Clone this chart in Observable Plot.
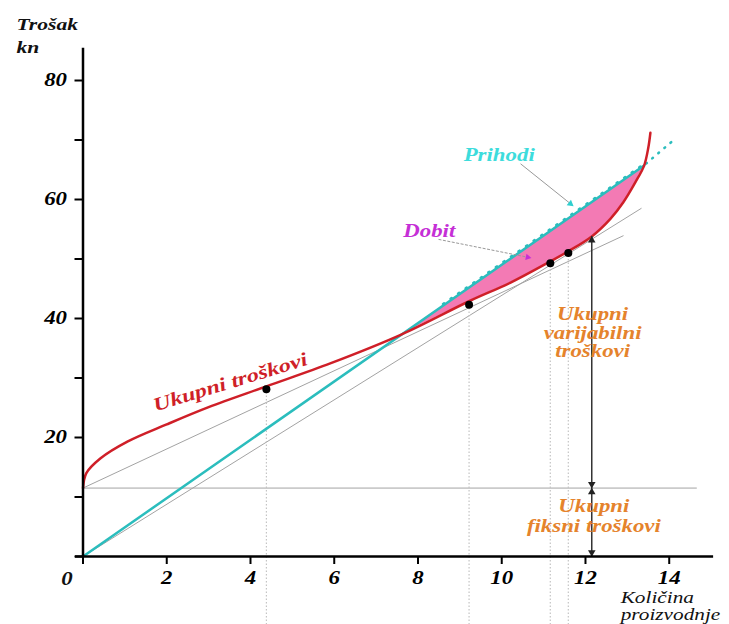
<!DOCTYPE html>
<html><head><meta charset="utf-8">
<script src="https://cdn.jsdelivr.net/npm/d3@7"></script>
<script src="https://cdn.jsdelivr.net/npm/@observablehq/plot@0.6"></script>
<style>body{margin:0;background:#fff}</style>
</head><body><div id="chart"></div>
<script>
// Total cost curve (Ukupni troškovi)
const costQ = [0, 0.08, 0.42, 1.06, 2.0, 3.0, 4.38, 5.92, 7.6, 9.22, 10.2, 11.16, 11.59, 12.15, 12.6, 12.9, 13.2, 13.4, 13.5, 13.55];
const costV = [11.5, 14.0, 16.5, 19.3, 22.2, 25.1, 28.6, 32.5, 37.3, 42.9, 46.0, 49.6, 51.3, 53.8, 56.8, 59.5, 63.0, 65.7, 68.7, 71.2];
// Revenue (Prihodi)
const revQ = [0, 13.4];
const revV = [0, 65.7];
const revExtQ = [13.4, 14.05];
const revExtV = [65.7, 69.6];
const revTeethQ = [8.6, 13.35];
const revTeethV = [42.1, 65.4];
// Profit region (Dobit)
const profitQ = [7.6, 9.22, 10.2, 11.16, 11.59, 12.15, 12.6, 12.9, 13.2, 13.4];
const profitCost = [37.3, 42.9, 46.0, 49.6, 51.3, 53.8, 56.8, 59.5, 63.0, 65.7];
const profitRev = [37.2, 45.2, 50.0, 54.7, 56.8, 59.5, 61.7, 63.2, 64.7, 65.7];
// Fixed cost level and helper lines
const fixedCost = 11.5;
const fixedLineQ = [0, 14.67];
const tangentAQ = [0, 12.9], tangentAV = [11.5, 53.9];
const tangentBQ = [0, 13.33], tangentBV = [0, 58.5];
// Marked points and drop lines
const pointQ = [4.38, 9.22, 11.16, 11.59];
const pointV = [28.1, 42.3, 49.3, 51.0];
const dropBottom = -11.5;
// Arrows
const arrowQ = 12.15;
const varTop = 53.8;
// Ticks
const xTicks = [0, 2, 4, 6, 8, 10, 12, 14];
const xTickLabels = ["", "2", "4", "6", "8", "10", "12", "14"];
const yTicks = [0, 10, 20, 30, 40, 50, 60, 70, 80];
const yTickLabels = ["", "", "20", "", "40", "", "60", "", "80"];
// Annotation leaders
const prihodiLead = {x1: 10.45, y1: 66.0, x2: 11.64, y2: 59.3};
const dobitLead = {x1: 8.49, y1: 53.3, x2: 10.62, y2: 50.3};

const cost = costQ.map((q, i) => ({q, v: costV[i]}));
const rev = revQ.map((q, i) => ({q, v: revV[i]}));
const revExt = revExtQ.map((q, i) => ({q, v: revExtV[i]}));
const teeth = revTeethQ.map((q, i) => ({q, v: revTeethV[i]}));
const profit = profitQ.map((q, i) => ({q, c: profitCost[i], r: profitRev[i]}));
const tanA = tangentAQ.map((q, i) => ({q, v: tangentAV[i]}));
const tanB = tangentBQ.map((q, i) => ({q, v: tangentBV[i]}));
const pts = pointQ.map((q, i) => ({q, v: pointV[i]}));

const F = "Liberation Serif";
const txt = {fontFamily: F, fontWeight: "bold", fontStyle: "italic", fontSize: 18};
const RED = "#cf1f28", CYAN = "#2bbdbd", PINK = "#f37ab4", GRAY = "#a3a3a3", ORANGE = "#e5832c";

const chart = Plot.plot({
  width: 729, height: 624,
  marginLeft: 82.5, marginRight: 18.4, marginTop: 50.25, marginBottom: 68,
  x: {domain: [0, 15]},
  y: {domain: [0, 85]},
  style: {fontFamily: F, color: "#000", background: "#fff"},
  marks: [
    Plot.areaY(profit, {x: "q", y1: "c", y2: "r", fill: PINK, curve: "catmull-rom"}),
    Plot.ruleY([fixedCost], {x1: fixedLineQ[0], x2: fixedLineQ[1], stroke: GRAY, strokeWidth: 1}),
    Plot.line(tanA, {x: "q", y: "v", stroke: GRAY, strokeWidth: 1}),
    Plot.line(tanB, {x: "q", y: "v", stroke: GRAY, strokeWidth: 1}),
    Plot.ruleX(pts, {x: "q", y1: dropBottom, y2: "v", stroke: "#c4c4c4", strokeWidth: 1.2, strokeDasharray: "1.5,2"}),
    Plot.line(teeth, {x: "q", y: "v", stroke: CYAN, strokeWidth: 2.6, strokeDasharray: "1.2,8", dy: -2}),
    Plot.line(revExt, {x: "q", y: "v", stroke: CYAN, strokeWidth: 2.5, strokeDasharray: "1,7", strokeLinecap: "round", dx: 2, dy: -2}),
    Plot.line(rev, {x: "q", y: "v", stroke: CYAN, strokeWidth: 2.5}),
    Plot.line(cost, {x: "q", y: "v", stroke: RED, strokeWidth: 2.5, curve: "catmull-rom"}),
    Plot.dot(pts, {x: "q", y: "v", r: 4, fill: "#000"}),
    // vertical arrows
    Plot.ruleX([arrowQ], {y1: 0, y2: varTop, stroke: "#333", strokeWidth: 1.5}),
    Plot.dot([varTop, fixedCost], {x: arrowQ, y: d => d, symbol: "triangle", r: 2.8, fill: "#222", dy: 4}),
    Plot.dot([fixedCost, 0], {x: arrowQ, y: d => d, symbol: "triangle", rotate: 180, r: 2.8, fill: "#222", dy: -4}),
    // leaders
    Plot.link([prihodiLead], {x1: "x1", y1: "y1", x2: "x2", y2: "y2", stroke: "#999", strokeWidth: 1}),
    Plot.link([dobitLead], {x1: "x1", y1: "y1", x2: "x2", y2: "y2", stroke: "#999", strokeWidth: 1, strokeDasharray: "3,1.5"}),
    Plot.dot([prihodiLead], {x: "x2", y: "y2", symbol: "triangle", rotate: 128, r: 2.6, fill: "#2fcfcf"}),
    Plot.dot([dobitLead], {x: "x2", y: "y2", symbol: "triangle", rotate: 101, r: 2.4, fill: "#c52fd6"}),
    // labels
    Plot.text(["Prihodi"], {x: 9.94, y: 67.4, text: d => d, ...txt, fill: "#3ddcdc"}),
    Plot.text(["Dobit"], {x: 8.27, y: 54.7, text: d => d, ...txt, fill: "#c52fd6"}),
    Plot.text(["Ukupni troškovi"], {x: 3.52, y: 29.3, text: d => d, ...txt, fontSize: 19, rotate: -17, fill: RED}),
    Plot.text(["Ukupni\nvarijabilni\ntroškovi"], {x: 12.17, y: 37.6, text: d => d, ...txt, lineHeight: 1.03, fill: ORANGE}),
    Plot.text(["Ukupni\nfiksni troškovi"], {x: 12.2, y: 6.9, text: d => d, ...txt, lineHeight: 1.1, fill: ORANGE}),
    Plot.text(["Trošak\nkn"], {x: -1.59, y: 87.8, text: d => d, ...txt, fontSize: 17, textAnchor: "start", lineHeight: 1.35, fill: "#111"}),
    Plot.text(["Količina\nproizvodnje"], {x: 12.84, y: -8.3, text: d => d, fontFamily: F, fontStyle: "italic", fontSize: 16, textAnchor: "start", lineHeight: 1.1, fill: "#111"}),
    Plot.text(["0"], {x: 0, y: 0, text: d => d, ...txt, dx: -16, dy: 23, fill: "#111"}),
    // axes
    Plot.ruleX([0], {y1: 0, y2: 85.4, stroke: "#000", strokeWidth: 2.5}),
    Plot.ruleY([0], {x1: -0.18, x2: 15.06, stroke: "#000", strokeWidth: 2.5}),
    Plot.axisX({ticks: xTicks, tickSize: 8, tickPadding: 7, strokeWidth: 2, ...txt, tickFormat: d => xTickLabels[xTicks.indexOf(d)], label: null}),
    Plot.axisY({ticks: yTicks, tickSize: 8, tickPadding: 8, strokeWidth: 2, ...txt, tickFormat: d => yTickLabels[yTicks.indexOf(d)], label: null})
  ]
});
// the reference's lettering is horizontally widened
chart.querySelectorAll("text").forEach(t => {
  const tr = t.getAttribute("transform");
  if (!tr) return;
  const s = t.textContent.startsWith("Količina") ? 1.33 : 1.27;
  t.setAttribute("transform", tr + ` scale(${s},1)`);
});
document.getElementById("chart").appendChild(chart);
</script>
</body></html>
